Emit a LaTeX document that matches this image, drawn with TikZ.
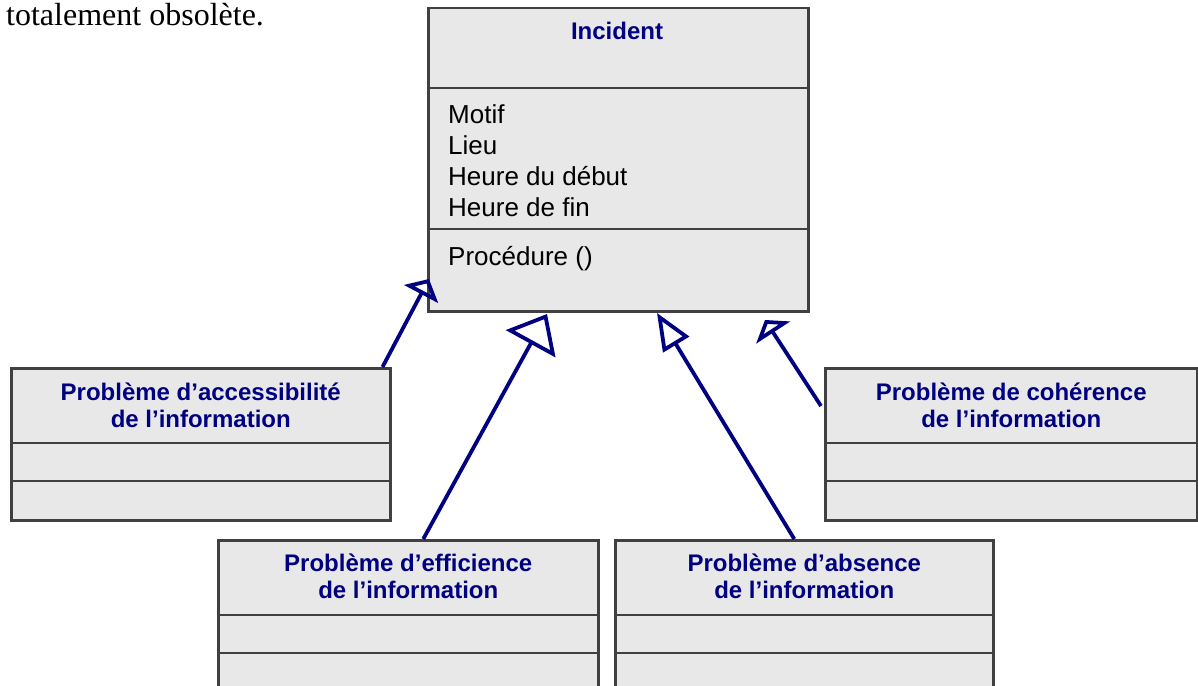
\documentclass[tikz,border=0pt]{standalone}
\usepackage{fontspec}
\setmainfont{Liberation Serif}
\newfontfamily\arialfont{Liberation Sans}
\usetikzlibrary{arrows.meta}
\definecolor{umlnavy}{RGB}{0,0,128}
\definecolor{boxfill}{RGB}{232,232,232}
\definecolor{boxline}{RGB}{64,64,64}

\begin{document}
\begin{tikzpicture}
  [x=1pt,y=-1pt,
   classbox/.style={draw=boxline,fill=boxfill,line width=2.5pt,anchor=north west,inner sep=0pt},
   classline/.style={draw=boxline,line width=2.5pt},
   classname/.style={font=\arialfont\bfseries\fontsize{24}{27}\selectfont,text=umlnavy,align=center,inner sep=0pt},
   member/.style={font=\arialfont\fontsize{26}{31}\selectfont,anchor=base west,inner sep=0pt},
   inherit/.style={draw=umlnavy,line width=3.8pt}]
  \clip (0,0) rectangle (1198,685);

  \node[anchor=base west,inner sep=0pt,font=\fontsize{32}{38}\selectfont] (intro) at (6,26) {totalement obsolète.};

  % classe mere
  \node[classbox,minimum width=380pt,minimum height=303pt] (incident) at (427,7) {};
  \draw[classline] ([yshift=-81pt]incident.north west) -- ([yshift=-81pt]incident.north east)
                   ([yshift=-222pt]incident.north west) -- ([yshift=-222pt]incident.north east);
  \node[classname,anchor=base] (incidentname) at (617,40) {Incident};
  \foreach \attr [count=\i] in {Motif,Lieu,Heure du début,Heure de fin}
    \node[member] (attr\i) at (448,92+31*\i) {\attr};
  \node[member] (proc) at (448,265) {Procédure ()};

  % sous-classes
  \node[classbox,minimum width=379pt,minimum height=152pt] (acc) at (10,367) {};
  \node[classbox,minimum width=372pt,minimum height=152pt] (coh) at (824,367) {};
  \node[classbox,minimum width=380pt,minimum height=170pt] (eff) at (217,539) {};
  \node[classbox,minimum width=378pt,minimum height=170pt] (abs) at (614,539) {};

  \foreach \cls in {acc,coh,eff,abs}
    \draw[classline] ([yshift=-76pt]\cls.north west) -- ([yshift=-76pt]\cls.north east)
                     ([yshift=-114pt]\cls.north west) -- ([yshift=-114pt]\cls.north east);

  \node[classname] (acctitle) at ([yshift=-38pt]acc.north) {Problème d’accessibilité\\de l’information};
  \node[classname] (cohtitle) at ([yshift=-38pt]coh.north) {Problème de cohérence\\de l’information};
  \node[classname] (efftitle) at ([yshift=-37pt]eff.north) {Problème d’efficience\\de l’information};
  \node[classname] (abstitle) at ([yshift=-37pt]abs.north) {Problème d’absence\\de l’information};

  % generalisations
  \coordinate (acctip) at (429,279);
  \coordinate (efftip) at (547,314);
  \coordinate (abstip) at (657,313);
  \coordinate (cohtip) at (765,320);

  \draw[inherit,-{Triangle[open,length=17pt,width=38pt]}] ([xshift=-9pt]acc.north east) -- (acctip);
  \draw[inherit,-{Triangle[open,length=34pt,width=56pt]}] ([xshift=15pt]eff.north) -- (efftip);
  \draw[inherit,-{Triangle[open,length=37pt,width=30pt]}] ([xshift=-10pt]abs.north) -- (abstip);
  \draw[inherit,-{Triangle[open,length=15pt,width=40pt]}] ([xshift=-3pt,yshift=-39pt]coh.north west) -- (cohtip);

\end{tikzpicture}
\end{document}
